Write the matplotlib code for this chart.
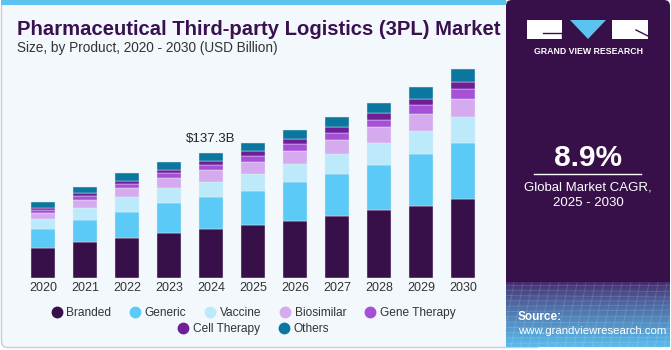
import matplotlib
matplotlib.use("Agg")
import matplotlib.pyplot as plt
from matplotlib.patches import Rectangle, Polygon, FancyBboxPatch
from matplotlib.lines import Line2D
import numpy as np

plt.rcParams['font.family'] = ['Liberation Sans', 'DejaVu Sans']

years = ["2020", "2021", "2022", "2023", "2024", "2025", "2026", "2027", "2028", "2029", "2030"]
products = ["Branded", "Generic", "Vaccine", "Biosimilar", "Gene Therapy", "Cell Therapy", "Others"]
colors = ["#37104A", "#5BCAF7", "#BDEAFB", "#D6AAEF", "#A650D8", "#6E1F97", "#0B779E"]

# USD billion
branded      = [32.7, 39.3, 44.0, 49.9, 54.0, 58.4, 63.1, 67.9, 74.5, 79.6, 87.0]
generic      = [21.3, 24.6, 29.0, 33.0, 35.2, 37.8, 42.2, 47.0, 50.3, 56.5, 62.0]
vaccine      = [10.7, 13.2, 16.5, 15.8, 16.9, 18.7, 20.6, 22.0, 24.2, 26.1, 28.6]
biosimilar   = [7.0, 8.8, 9.9, 11.0, 12.5, 13.2, 14.3, 15.4, 17.3, 18.7, 19.8]
gene_therapy = [3.3, 4.4, 4.4, 5.5, 6.2, 6.6, 6.9, 7.7, 8.0, 9.9, 10.2]
cell_therapy = [2.6, 3.3, 3.3, 3.3, 4.0, 5.2, 5.5, 6.3, 6.9, 6.6, 7.7]
others       = [6.0, 6.6, 8.5, 9.2, 8.5, 9.1, 10.2, 11.3, 11.8, 12.9, 14.3]
series = [branded, generic, vaccine, biosimilar, gene_therapy, cell_therapy, others]

label_year = "2024"
label_text = "$137.3B"
cagr = "8.9%"

W, H = 671, 350
fig = plt.figure(figsize=(W / 100, H / 100), dpi=100)
fig.patch.set_facecolor("white")

# background / decoration layer in pixel coordinates
bg = fig.add_axes([0, 0, 1, 1], zorder=0)
bg.set_xlim(0, W)
bg.set_ylim(H, 0)
bg.axis("off")
bg.add_patch(FancyBboxPatch((1.5, 1.5), 540, H - 4, boxstyle="round,pad=0,rounding_size=6",
                            facecolor="#F3F8FC", edgecolor="#C9CDD1", linewidth=1))
bg.add_patch(Rectangle((1, 0), 505, 5, facecolor="#5BC3EE", edgecolor="none"))

# right panel
bg.add_patch(FancyBboxPatch((506, 0), W - 507, H - 3, boxstyle="round,pad=0,rounding_size=6",
                            facecolor="#37104A", edgecolor="none"))
grad = np.linspace(0, 1, 64)[:, None]
c0 = np.array([0x44, 0x2A, 0x6A]) / 255
c1 = np.array([0x5A, 0xBC, 0xEC]) / 255
img = c0 + (c1 - c0) * grad[..., None] ** 0.8
bg.imshow(img * np.ones((1, 10, 1)), extent=[506, W - 1, H - 3, 282], aspect="auto", zorder=1)
for k in range(12):
    yy = 285 + k * 5.3
    bg.plot([506, W - 1], [yy, yy + 1.5 * np.sin(k)], color="white", alpha=0.15, lw=0.6, zorder=2)
for k in range(20):
    xx = 506 + k * 9
    bg.plot([xx + 8, xx - 4], [283, H - 3], color="white", alpha=0.15, lw=0.6, zorder=2)

# logo
bg.add_patch(Rectangle((527, 20), 35, 19, facecolor="white", edgecolor="none", zorder=3))
bg.plot([543, 562], [33, 33], color="#37104A", lw=1, zorder=4)
bg.plot([561.5, 561.5], [33, 39], color="#37104A", lw=1, zorder=4)
bg.add_patch(Polygon([[570, 20], [606, 20], [588, 39]], facecolor="#5BC3EE", edgecolor="none", zorder=3))
bg.add_patch(Rectangle((612, 20), 36, 19, facecolor="white", edgecolor="none", zorder=3))
bg.plot([636, 648], [30, 36], color="#37104A", lw=1, zorder=4)
bg.text(588, 51, "GRAND VIEW RESEARCH", color="white", fontsize=6.3, fontweight="bold",
        ha="center", va="center", zorder=4)

bg.text(588, 166, cagr, color="white", fontsize=21.5, fontweight="bold", ha="center", va="baseline", zorder=4)
bg.plot([534, 641], [173.5, 173.5], color="white", lw=1, zorder=4)
bg.text(588, 191, "Global Market CAGR,", color="white", fontsize=9.5, ha="center", va="baseline", zorder=4)
bg.text(588, 206, "2025 - 2030", color="white", fontsize=9.5, ha="center", va="baseline", zorder=4)
bg.text(518, 320, "Source:", color="white", fontsize=8.5, fontweight="bold", ha="left", va="baseline", zorder=4)
bg.text(518, 334, "www.grandviewresearch.com", color="white", fontsize=8.2, ha="left", va="baseline", zorder=4)

# titles
bg.text(17, 35, "Pharmaceutical Third-party Logistics (3PL) Market", color="#3A1150",
        fontsize=14.6, fontweight="bold", ha="left", va="baseline")
bg.text(17, 52, "Size, by Product, 2020 - 2030 (USD Billion)", color="#333333",
        fontsize=9.8, ha="left", va="baseline")

# chart axes
ax = fig.add_axes([20 / W, (H - 278) / H, 466 / W, 218 / H], zorder=2)
ax.patch.set_alpha(0)
x = np.arange(len(years))
bottom = np.zeros(len(years))
for name, vals, col in zip(products, series, colors):
    ax.bar(x, vals, width=0.57, bottom=bottom, color=col, edgecolor="#E8ECF2", linewidth=0.3, label=name)
    bottom += np.array(vals)

i = years.index(label_year)
ax.text(x[i], bottom[i] + 9, label_text, ha="center", va="bottom", fontsize=9.5, color="#222222")

ax.set_xlim(-0.55, 10.55)
ax.set_ylim(0, 240)
ax.set_xticks(x)
ax.set_xticklabels(years, fontsize=9, color="#333333")
ax.tick_params(axis="x", length=0, pad=3)
ax.set_yticks([])
for s in ax.spines.values():
    s.set_visible(False)

def handle(c):
    return Line2D([], [], marker="o", linestyle="none", markersize=7.5, markerfacecolor=c, markeredgecolor=c)

leg1 = fig.legend([handle(c) for c in colors[:5]], products[:5], loc="center",
                  bbox_to_anchor=(253 / W, 1 - 313 / H), ncol=5, frameon=False,
                  fontsize=8.6, handletextpad=0.3, columnspacing=1.5, handlelength=1.0)
leg2 = fig.legend([handle(c) for c in colors[5:]], products[5:], loc="center",
                  bbox_to_anchor=(253 / W, 1 - 329 / H), ncol=2, frameon=False,
                  fontsize=8.6, handletextpad=0.3, columnspacing=1.5, handlelength=1.0)
for leg in (leg1, leg2):
    for t in leg.get_texts():
        t.set_color("#333333")

fig.savefig("out.png", dpi=100)
